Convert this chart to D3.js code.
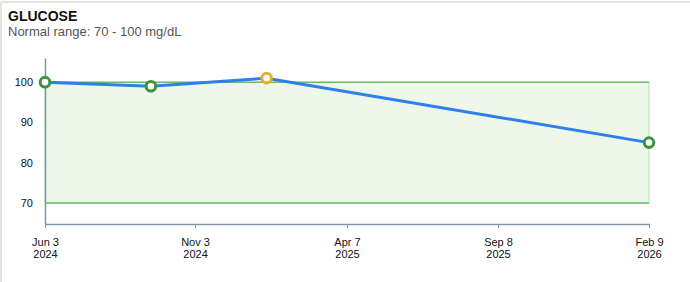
<!DOCTYPE html>
<html>
<head>
<meta charset="utf-8">
<script src="https://cdn.jsdelivr.net/npm/d3@7"></script>
<style>
  body { margin: 0; background: #fff; }
  .card {
    position: absolute; left: 0; top: 1px; width: 700px; height: 300px;
    border-top: 2px solid #e2e2e4; border-left: 2px solid #e2e2e4;
    box-sizing: border-box; border-top-left-radius: 3px;
  }
  svg { position: absolute; left: 0; top: 0; }
  .tick text { font-family: "Liberation Sans", Arial, sans-serif; font-size: 11px; fill: #111; }
</style>
</head>
<body>
<div class="card"></div>
<svg width="690" height="282"></svg>
<script>
var dates = ["2024-06-03", "2024-09-19", "2025-01-15", "2026-02-09"];
var values = [100, 99, 101, 85];
var inRange = [true, true, false, true];
var tickDates = ["2024-06-03", "2024-11-03", "2025-04-07", "2025-09-08", "2026-02-09"];
var normalLow = 70, normalHigh = 100;
var yTicks = [70, 80, 90, 100];

var parse = d3.timeParse("%Y-%m-%d");

var svg = d3.select("svg");

svg.append("text")
   .attr("x", 8).attr("y", 21)
   .style("font-family", "'Liberation Sans', Arial, sans-serif")
   .style("font-size", "14px").style("font-weight", "bold").style("fill", "#111")
   .text("GLUCOSE");

svg.append("text")
   .attr("x", 8).attr("y", 36)
   .style("font-family", "'Liberation Sans', Arial, sans-serif")
   .style("font-size", "13px").style("fill", "#555")
   .text("Normal range: 70 - 100 mg/dL");

var x = d3.scaleTime()
          .domain([parse(tickDates[0]), parse(tickDates[tickDates.length - 1])])
          .range([45, 649]);

var y = d3.scaleLinear()
          .domain([64.8, 106])
          .range([224, 58]);

// normal range band
svg.append("rect")
   .attr("x", x.range()[0])
   .attr("y", y(normalHigh))
   .attr("width", x.range()[1] - x.range()[0])
   .attr("height", y(normalLow) - y(normalHigh))
   .style("fill", "#edf8ea")
   .style("stroke", "#b5dcb0");
[normalLow, normalHigh].forEach(function(v) {
    svg.append("line")
       .attr("x1", x.range()[0]).attr("x2", x.range()[1])
       .attr("y1", y(v)).attr("y2", y(v))
       .style("stroke", "#6cbf6a").style("stroke-width", 1.5);
});

// x axis
var xAxis = svg.append("g")
               .attr("transform", "translate(0,224)")
               .call(d3.axisBottom(x)
                       .tickValues(tickDates.map(parse))
                       .tickSize(4)
                       .tickSizeOuter(0)
                       .tickFormat(function() { return ""; }));
xAxis.select(".domain").style("stroke", "#8294a8").style("stroke-width", 1.5);
xAxis.selectAll(".tick line").style("stroke", "#8294a8");
xAxis.selectAll(".tick text").remove();
xAxis.selectAll(".tick").each(function(d) {
    var t = d3.select(this).append("text").attr("text-anchor", "middle");
    t.append("tspan").attr("x", 0).attr("y", 22).text(d3.timeFormat("%b %-d")(d));
    t.append("tspan").attr("x", 0).attr("y", 34).text(d3.timeFormat("%Y")(d));
});

// y axis
var yAxis = svg.append("g")
               .attr("transform", "translate(45,0)")
               .call(d3.axisLeft(y).tickValues(yTicks).tickSize(0).tickPadding(12));
yAxis.select(".domain").style("stroke", "#8294a8").style("stroke-width", 1.5);

// line
var pts = dates.map(function(d, i) { return { date: parse(d), value: values[i], ok: inRange[i] }; });

svg.append("path")
   .datum(pts)
   .attr("d", d3.line()
                .x(function(d) { return x(d.date); })
                .y(function(d) { return y(d.value); }))
   .style("fill", "none")
   .style("stroke", "#2f7fe8")
   .style("stroke-width", 3);

svg.append("g")
   .selectAll("circle")
   .data(pts)
   .enter().append("circle")
   .attr("cx", function(d) { return x(d.date); })
   .attr("cy", function(d) { return y(d.value); })
   .attr("r", 4.8)
   .style("fill", "#fff")
   .style("stroke", function(d) { return d.ok ? "#3a9440" : "#e0b02c"; })
   .style("stroke-width", 3);
</script>
</body>
</html>
